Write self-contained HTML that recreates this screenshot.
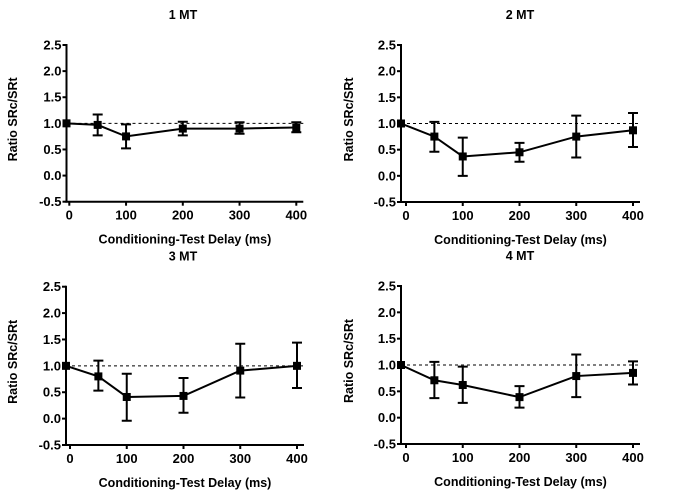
<!DOCTYPE html>
<html><head><meta charset="utf-8"><style>
html,body{margin:0;padding:0;background:#fff;}
svg{display:block;font-family:"Liberation Sans",Arial,sans-serif;font-weight:bold;}
</style></head><body>
<svg id="s" width="680" height="496" viewBox="0 0 680 496" xmlns="http://www.w3.org/2000/svg"></svg>
<script>
var P=[
 {t:"1 MT",ax:66.5,x0:69.3,yt:45,yb:201.7,tc:183,yl:13,
  d:[[1,0.97,1.03],[0.97,0.77,1.17],[0.75,0.52,0.98],[0.9,0.77,1.03],[0.9,0.8,1.02],[0.92,0.83,1.02]]},
 {t:"2 MT",ax:401,x0:406,yt:45,yb:202,tc:520,yl:349,
  d:[[1,0.97,1.03],[0.75,0.46,1.03],[0.37,0.0,0.73],[0.45,0.27,0.63],[0.75,0.35,1.15],[0.87,0.55,1.2]]},
 {t:"3 MT",ax:66,x0:70,yt:286.7,yb:445,tc:183,yl:13,
  d:[[1,0.97,1.03],[0.8,0.53,1.1],[0.41,-0.04,0.85],[0.43,0.11,0.77],[0.91,0.4,1.42],[1.0,0.58,1.44]]},
 {t:"4 MT",ax:401,x0:406,yt:286,yb:444,tc:520,yl:349,
  d:[[1,0.97,1.03],[0.71,0.37,1.06],[0.62,0.28,0.97],[0.39,0.19,0.6],[0.79,0.39,1.2],[0.85,0.63,1.07]]}
];
var h="";
var xs=[-5,50,100,200,300,400];
P.forEach(function(p){
 var sx=function(v){return p.x0+v*0.5675;};
 var sy=function(v){return p.yb-(v+0.5)*(p.yb-p.yt)/3;};
 h+='<text x="'+p.tc+'" y="'+(p.yt-26)+'" font-size="12.5" text-anchor="middle">'+p.t+'</text>';
 var xe=sx(400)+7;
 h+='<line x1="'+p.ax+'" y1="'+(p.yt-1)+'" x2="'+p.ax+'" y2="'+p.yb+'" stroke="#000" stroke-width="2"/>';
 h+='<line x1="'+(p.ax-1)+'" y1="'+p.yb+'" x2="'+xe+'" y2="'+p.yb+'" stroke="#000" stroke-width="2"/>';
 for(var i=0;i<7;i++){var v=-0.5+i*0.5,y=sy(v);
  h+='<line x1="'+(p.ax-4)+'" y1="'+y+'" x2="'+p.ax+'" y2="'+y+'" stroke="#000" stroke-width="2"/>';
  h+='<text x="'+(p.ax-5)+'" y="'+(y+4.5)+'" font-size="13" text-anchor="end">'+v.toFixed(1)+'</text>';}
 [0,100,200,300,400].forEach(function(v){var x=sx(v);
  h+='<line x1="'+x+'" y1="'+p.yb+'" x2="'+x+'" y2="'+(p.yb+4)+'" stroke="#000" stroke-width="2"/>';
  h+='<text x="'+x+'" y="'+(p.yb+18)+'" font-size="13" text-anchor="middle">'+v+'</text>';});
 h+='<text x="'+((p.ax+xe)/2)+'" y="'+(p.yb+42)+'" font-size="12.5" text-anchor="middle">Conditioning-Test Delay (ms)</text>';
 var yc=(p.yt+p.yb)/2-4;
 h+='<text transform="translate('+(p.yl+4)+','+yc+') rotate(-90)" font-size="12.5" text-anchor="middle">Ratio SRc/SRt</text>';
 h+='<line x1="'+p.ax+'" y1="'+sy(1)+'" x2="'+xe+'" y2="'+sy(1)+'" stroke="#000" stroke-width="1" stroke-dasharray="3,3"/>';
 var pts=[];
 p.d.forEach(function(d,i){var x=xs[i]==-5?p.ax:sx(xs[i]);pts.push(x+","+sy(d[0]));
  if(i>0){var a=sy(d[2]),b=sy(d[1]);
   h+='<path d="M'+x+' '+a+'V'+b+'M'+(x-5)+' '+a+'H'+(x+5)+'M'+(x-5)+' '+b+'H'+(x+5)+'" stroke="#000" stroke-width="2" fill="none"/>';}
  h+='<rect x="'+(x-4)+'" y="'+(sy(d[0])-4)+'" width="8" height="8" fill="#000"/>';});
 h+='<polyline points="'+pts.join(" ")+'" fill="none" stroke="#000" stroke-width="2"/>';
});
document.getElementById("s").innerHTML=h;
</script>
</body></html>
